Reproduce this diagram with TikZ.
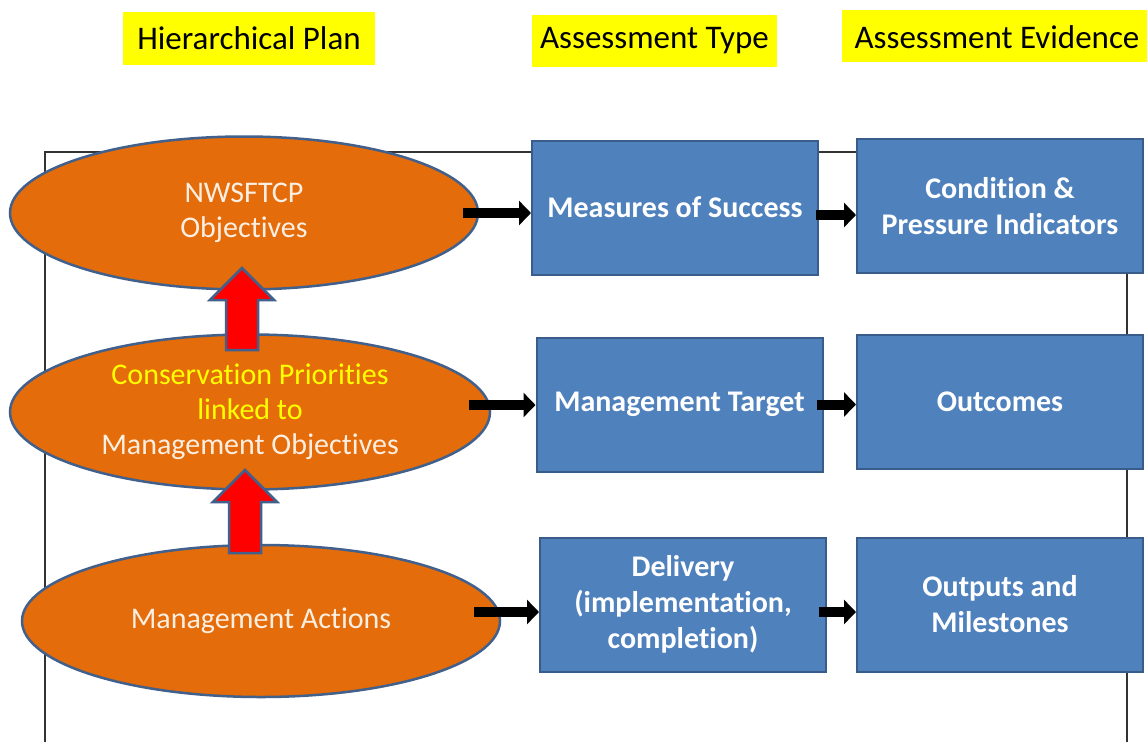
\documentclass[tikz,border=0pt]{standalone}
\usepackage{fontspec}
\setmainfont{Carlito}[Ligatures=NoCommon]
\usetikzlibrary{shapes.geometric,arrows.meta}
\definecolor{orfill}{HTML}{E46C0A}
\definecolor{orline}{HTML}{41608C}
\definecolor{bxfill}{HTML}{4F81BD}
\definecolor{bxline}{HTML}{385D8A}
\definecolor{hdyel}{HTML}{FFFF00}
\definecolor{eltext}{HTML}{FCEFE2}
\tikzset{
  hdbox/.style={fill=hdyel, draw=none, inner sep=0pt, font=\fontsize{33}{36}\selectfont, text=black},
  oval/.style={ellipse, fill=orfill, draw=orline, line width=2.5pt, inner sep=0pt, align=center,
     text=eltext, font=\fontsize{30}{35}\selectfont},
  bluebox/.style={rectangle, fill=bxfill, draw=bxline, line width=2pt, inner sep=0pt, align=center,
     text=white, font=\bfseries\fontsize{30}{36}\selectfont, minimum width=286pt, minimum height=134pt},
  blkarrow/.style={line width=10pt, draw=black, -{Triangle[length=12pt,width=24pt]}},
  uparrow/.style={fill=red, draw=orline, line width=2.5pt, line join=miter},
  framel/.style={draw=black!80, line width=1.3pt}
}
\begin{document}
\begin{tikzpicture}[x=1pt,y=-1pt]
\useasboundingbox (0,0) rectangle (1147,742);
\clip (0,0) rectangle (1147,742);
% frame
\draw[framel] (45,742) -- (45,152) -- (1127,152) -- (1127,742);
% headers
\node[hdbox, minimum width=252pt, minimum height=53pt] (h1) at (249,38.5) {Hierarchical Plan};
\node[hdbox, minimum width=245pt, minimum height=52pt] (h2) at (654.5,41) {Assessment Type};
\node[hdbox, minimum width=320pt, minimum height=52pt, anchor=west] (h3) at (842,36) {};
\node[font=\fontsize{33}{36}\selectfont, inner sep=0pt] (h3t) at (997,37) {Assessment Evidence};
% ellipses
\node[oval, minimum width=468pt, minimum height=153pt] (e1) at (244,213) {NWSFTCP\\Objectives};
\node[oval, minimum width=480pt, minimum height=155pt] (e2) at (250,412) {\textcolor{hdyel}{Conservation Priorities}\\\textcolor{hdyel}{linked to}\\Management Objectives};
\node[oval, minimum width=478pt, minimum height=152pt] (e3) at (261,621) {Management Actions};
% red up arrows
\draw[uparrow] (226,350) -- (226,300) -- (210,300) -- (242,268) -- (274,300) -- (258,300) -- (258,350) -- cycle;
\draw[uparrow] (229,553) -- (229,502) -- (213,502) -- (245,470) -- (277,502) -- (261,502) -- (261,553) -- cycle;
% blue boxes
\node[bluebox] (a1) at (675,207.5) {Measures of Success};
\node[bluebox] (b1) at (1000,206) {Condition \&\\Pressure Indicators};
\node[bluebox] (a2) at (679.5,404.5) {Management Target};
\node[bluebox] (b2) at (1000,402) {Outcomes};
\node[bluebox] (a3) at (683,604.5) {Delivery\\(implementation,\\completion)};
\node[bluebox] (b3) at (1000,604.5) {Outputs and\\Milestones};
% black arrows
\draw[blkarrow] ([xshift=-16pt]e1.east) -- (a1.west |- e1.east);
\draw[blkarrow] ([xshift=-3pt,yshift=-7.5pt]a1.east) -- ([yshift=-7.5pt]b1.west |- a1.east);
\draw[blkarrow] ([xshift=-22pt,yshift=7pt]e2.east) -- ([yshift=7pt]a2.west |- e2.east);
\draw[blkarrow] ([xshift=-7pt]a2.east) -- (b2.west |- a2.east);
\draw[blkarrow] ([xshift=-27pt,yshift=9pt]e3.east) -- ([yshift=9pt]a3.west |- e3.east);
\draw[blkarrow] ([xshift=-8pt,yshift=-7.5pt]a3.east) -- ([yshift=-7.5pt]b3.west |- a3.east);
\end{tikzpicture}
\end{document}
